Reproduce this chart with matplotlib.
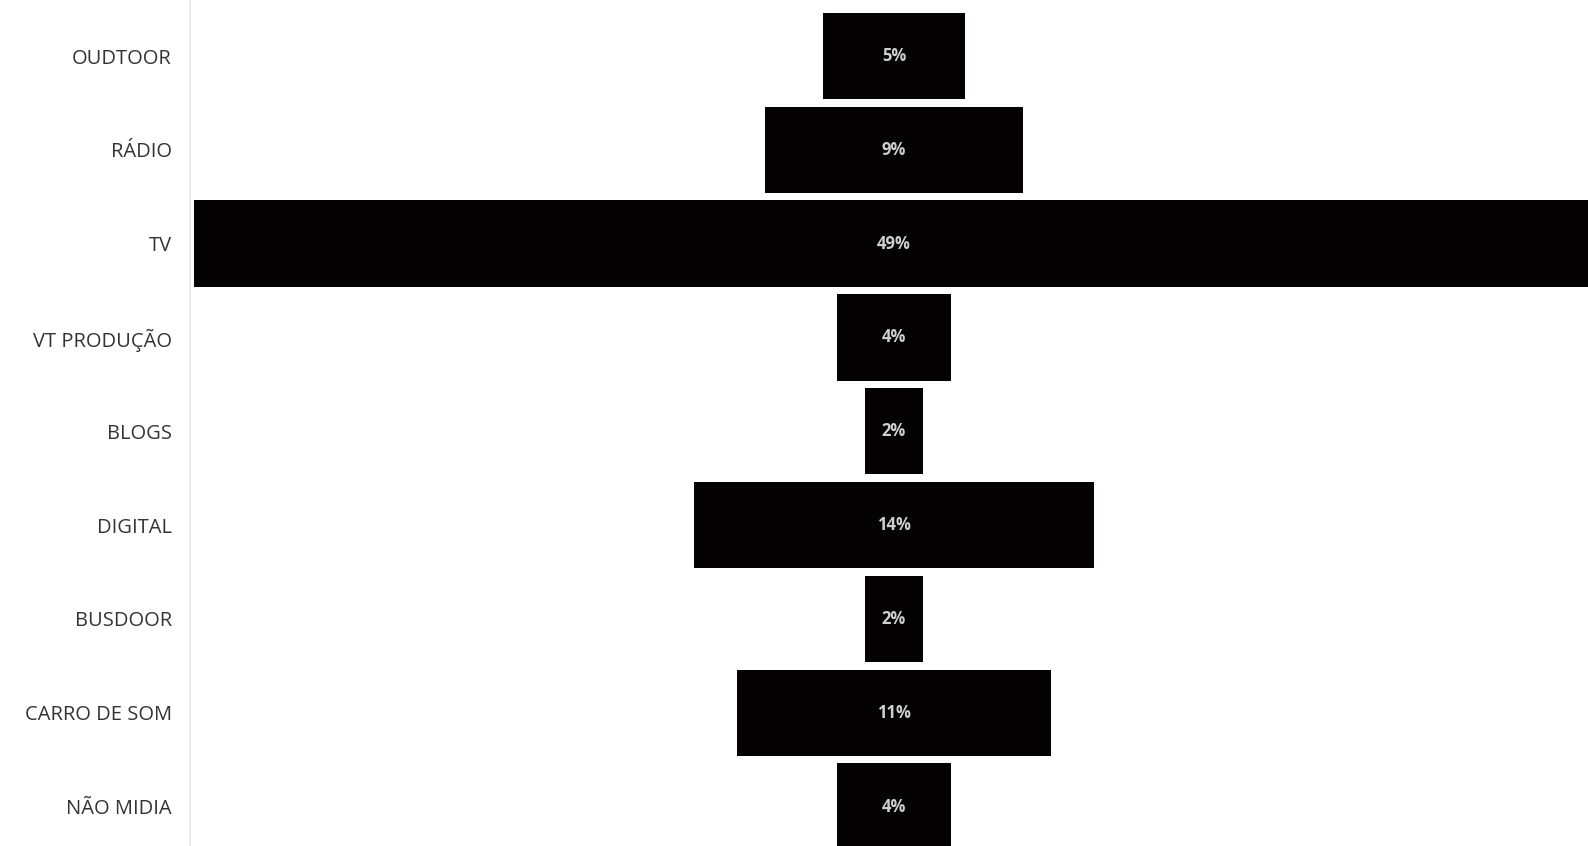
import matplotlib
matplotlib.use("Agg")
import matplotlib.pyplot as plt

# ------------------- DADOS -------------------
categorias = ["OUDTOOR", "RÁDIO", "TV", "VT PRODUÇÃO", "BLOGS",
              "DIGITAL", "BUSDOOR", "CARRO DE SOM", "NÃO MIDIA"]
percentuais = [5, 9, 49, 4, 2, 14, 2, 11, 4]
rotulos = ["5%", "9%", "49%", "4%", "2%", "14%", "2%", "11%", "4%"]

# ------------------- PLOT -------------------
fig = plt.figure(figsize=(15.88, 8.46), dpi=100)
ax = fig.add_axes([190 / 1588, 0.0, 1 - 190 / 1588, 1.0])

pos = list(range(len(categorias)))
esquerda = [-v / 2 for v in percentuais]
ax.barh(pos, percentuais, left=esquerda, height=0.92, color="#050203")

# rótulos de porcentagem no centro de cada barra
for y, txt in zip(pos, rotulos):
    ax.text(0, y, txt, ha="center", va="center", color="#cfcfcf",
            fontsize=12, fontweight="bold", family="Open Sans")

ax.set_yticks(pos)
ax.set_yticklabels(categorias, fontsize=14.5, color="#333333", family="Open Sans")
ax.tick_params(axis="y", length=0, pad=13)
ax.set_xticks([])

ax.set_xlim(-24.65, 24.3)
ax.set_ylim(8.42, -0.597)

for s in ["top", "right", "bottom"]:
    ax.spines[s].set_visible(False)
ax.spines["left"].set_color("#ececec")
ax.spines["left"].set_linewidth(1.5)

fig.savefig("out.png", dpi=100)
